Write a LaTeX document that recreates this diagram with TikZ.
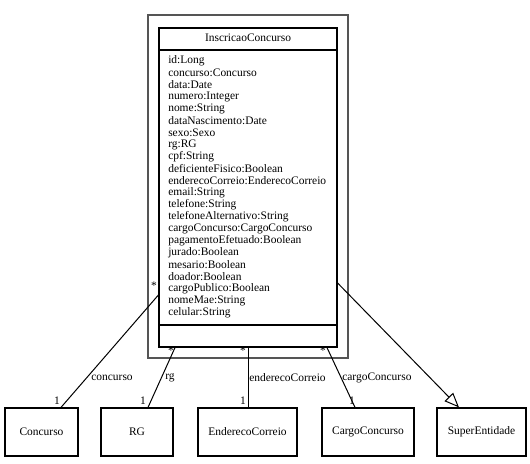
\documentclass[tikz,border=0pt]{standalone}
\usepackage{fontspec}
\setmainfont{Liberation Serif}
\usetikzlibrary{arrows.meta,calc}
\definecolor{framegray}{HTML}{555555}
\begin{document}
\begin{tikzpicture}[x=0.75pt,y=-0.75pt,
  font=\fontsize{8.6}{9}\selectfont,
  pkgframe/.style={draw=framegray, line width=1.5pt, fill=white, inner sep=0pt},
  classbox/.style={draw, line width=0.9pt, fill=white, inner sep=0pt},
  smallbox/.style={draw, line width=0.9pt, fill=white, inner sep=0pt, minimum height=36pt},
  assoc/.style={line width=0.75pt},
  gen/.style={line width=0.75pt, -{Triangle[open, length=11pt, width=9pt]}},
  lbl/.style={inner sep=0pt}]
\useasboundingbox (0,0) rectangle (530,463);

% package frame and the class InscricaoConcurso
\node[pkgframe, minimum width=150pt, minimum height=257.25pt] (pkg) at (248,186.5) {};
\node[classbox, minimum width=133.5pt, minimum height=239.25pt] (cls) at (248,187.5) {};
\draw[line width=0.9pt] (cls.west |- 0,50) -- (cls.east |- 0,50);
\draw[line width=0.9pt] (cls.west |- 0,325) -- (cls.east |- 0,325);
\node[lbl] (title) at (248,38) {InscricaoConcurso};

\foreach \txt [count=\i from 0] in {id:Long, concurso:Concurso, data:Date, numero:Integer,
  nome:String, dataNascimento:Date, sexo:Sexo, rg:RG, cpf:String,
  deficienteFisico:Boolean, enderecoCorreio:EnderecoCorreio, email:String,
  telefone:String, telefoneAlternativo:String, cargoConcurso:CargoConcurso,
  pagamentoEfetuado:Boolean, jurado:Boolean, mesario:Boolean, doador:Boolean,
  cargoPublico:Boolean, nomeMae:String, celular:String}
  \node[lbl, anchor=west] (attr\i) at (168,{61+12*\i}) {\txt};

% associated classes
\node[smallbox, minimum width=54.75pt] (concurso) at (41.5,432) {Concurso};
\node[smallbox, minimum width=54pt] (rg) at (137,432) {RG};
\node[smallbox, minimum width=74.25pt] (endereco) at (247.5,432) {EnderecoCorreio};
\node[smallbox, minimum width=69pt] (cargo) at (368,432) {CargoConcurso};
\node[smallbox, minimum width=66.75pt] (super) at (481.5,432) {SuperEntidade};

% associations
\draw[assoc] (cls.west |- 0,295) -- ($(concurso.north)+(19.5,0)$);
\draw[assoc] (cls.south -| 175,0) -- ($(rg.north)+(11,0)$);
\draw[assoc] (cls.south -| 248,0) -- (endereco.north -| 248,0);
\draw[assoc] (cls.south -| 327,0) -- ($(cargo.north)+(-13,0)$);
% generalization
\draw[gen] (cls.east |- 0,283) -- ($(super.north)+(-22.5,0)$);

% multiplicities and role names
\node[lbl] (m1) at (154,286) {*};
\node[lbl] (m2) at (57,401) {1};
\node[lbl] (r1) at (112,378) {concurso};
\node[lbl] (m3) at (171,351) {*};
\node[lbl] (m4) at (143,401) {1};
\node[lbl] (r2) at (170,378) {rg};
\node[lbl] (m5) at (243,351) {*};
\node[lbl] (m6) at (243,401) {1};
\node[lbl, anchor=west] (r3) at (249,378) {enderecoCorreio};
\node[lbl] (m7) at (323,351) {*};
\node[lbl] (m8) at (352,401) {1};
\node[lbl, anchor=west] (r4) at (342,378) {cargoConcurso};
\end{tikzpicture}
\end{document}
